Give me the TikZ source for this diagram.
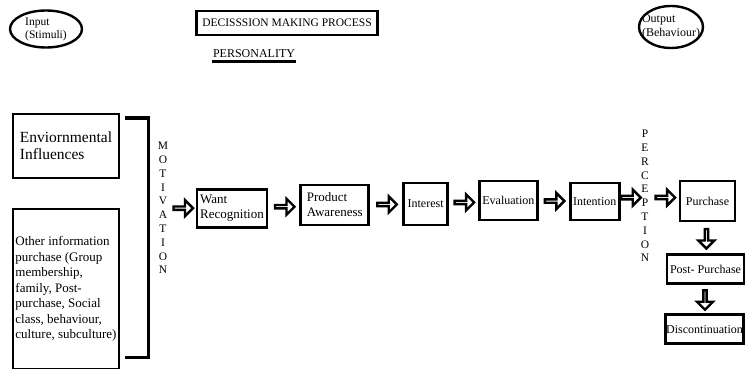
\documentclass[tikz,border=0pt]{standalone}
\usepackage{fontspec}
\setmainfont{Liberation Serif}
\usetikzlibrary{shapes,arrows,positioning}
\tikzstyle{block} = [rectangle, draw, line width=2.8pt, inner sep=1pt, align=left, font=\fontsize{12}{13.5}\selectfont]
\tikzstyle{cloud} = [ellipse, draw, line width=2.4pt, inner sep=0pt, minimum width=72pt, minimum height=37pt, align=left, font=\fontsize{11.5}{13}\selectfont]
\tikzstyle{letters} = [align=center, inner sep=1pt, font=\fontsize{11.5}{13.8}\selectfont]
\tikzstyle{harrow} = [single arrow, draw, fill=white, line width=2.4pt, inner sep=0pt, minimum height=19.5pt, minimum width=16pt, single arrow head extend=4.5pt, single arrow tip angle=90]
\tikzstyle{varrow} = [harrow, shape border rotate=270]

\begin{document}
\begin{tikzpicture}[x=1pt, y=-1pt, node distance=30pt]
        \useasboundingbox (0,0) rectangle (745,369);

        \node[cloud] (input) at (46,29) {Input\\(Stimuli)};
        \node[block, minimum width=181pt, minimum height=24pt, align=center, font=\fontsize{11.5}{13}\selectfont] (dmp) at (287,23) {DECISSSION MAKING PROCESS};
        \node[font=\fontsize{12}{13}\selectfont, inner sep=1pt] (pers) at (254,54) {PERSONALITY};
        \node[cloud, minimum width=64pt, minimum height=42pt, inner xsep=-8pt, font=\fontsize{12}{13.5}\selectfont] (output) at (671,27) {Output\\(Behaviour)};

        \node[block, minimum width=106pt, minimum height=64pt, font=\fontsize{15.5}{17}\selectfont] (env) at (66,146) {Enviornmental\\Influences};
        \node[block, minimum width=106pt, minimum height=160pt, font=\fontsize{13}{15.5}\selectfont] (other) at (66,289) {Other information\\purchase (Group\\membership,\\family, Post-\\purchase, Social\\class, behaviour,\\culture, subculture)};

        \node[letters] (motiv) at (163,208) {M\\O\\T\\I\\V\\A\\T\\I\\O\\N};
        \node[block, minimum width=70pt, minimum height=38pt, font=\fontsize{13}{15}\selectfont] (want) at (232,208.5) {Want\\Recognition};
        \node[block, minimum width=68pt, minimum height=40pt, font=\fontsize{13}{15}\selectfont, right=31pt of want, yshift=3.5pt] (aware) {Product\\Awareness};
        \node[block, minimum width=44pt, minimum height=42pt, right=32pt of aware, yshift=1pt] (inter) {Interest};
        \node[block, minimum width=58pt, minimum height=39pt, right=29pt of inter, yshift=3.5pt] (eval) {Evaluation};
        \node[block, minimum width=49pt, minimum height=37pt, right=30pt of eval, yshift=-1pt] (inten) {Intention};
        \node[letters] (perc) at (645,196) {P\\E\\R\\C\\E\\P\\T\\I\\O\\N};
        \node[block, minimum width=55pt, minimum height=40pt] (purch) at (707.5,201) {Purchase};
        \node[block, minimum width=77pt, minimum height=29pt, below=31pt of purch, xshift=-2pt] (post) {Post- Purchase};
        \node[block, minimum width=77pt, minimum height=29pt, below=28pt of post, xshift=-1pt] (disc) {Discontinuation};

        % bracket round the two influence boxes
        \draw[line width=3pt] (125,118) -- (148,118) -- (148,357) -- (125,357);
        \draw[line width=2.2pt] ([yshift=-3.5pt]pers.base west) -- ([yshift=-3.5pt]pers.base east);

        \path (motiv) -- node[harrow]{} (want);
        \path (want) -- node[harrow]{} (aware);
        \path (aware) -- node[harrow]{} (inter);
        \path (inter) -- node[harrow]{} (eval);
        \path (eval) -- node[harrow]{} (inten);
        \path (inten) -- node[harrow]{} (perc);
        \path (perc) -- node[harrow]{} (purch);
        \path (purch) -- node[varrow]{} (post);
        \path (post) -- node[varrow]{} (disc);
      \end{tikzpicture}
\end{document}
